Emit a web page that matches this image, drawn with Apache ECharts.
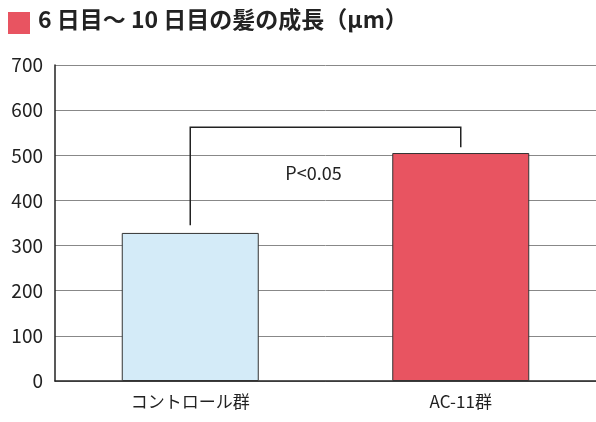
<!DOCTYPE html>
<html>
<head>
<meta charset="utf-8">
<script src="https://cdn.jsdelivr.net/npm/echarts@6/dist/echarts.min.js"></script>
</head>
<body style="margin:0">
<div id="container" style="width:596px;height:422px"></div>
<script>
var categories = ['コントロール群', 'AC-11群'];
var values = [328, 505];
var barColors = ['#d4ebf8', '#e85461'];
// 有意差ブラケット: [左端の下, 上辺, 右端の下, ラベル位置]
var bracket = [345, 562, 518, 460];
var pLabel = 'P<0.05';

var myChart = echarts.init(document.getElementById('container'));
var font = '"Noto Sans CJK JP", sans-serif';

option = {
    animation: false,
    backgroundColor: '#fff',
    graphic: [
        { type: 'rect', left: 8, top: 12, shape: { width: 22, height: 22 }, style: { fill: '#e85461' } },
        { type: 'text', left: 38, top: 8, style: { text: '6 日目～ 10 日目の髪の成長（μm）', font: 'bold 23px ' + font, fill: '#222' } }
    ],
    grid: { left: 55, right: 0, top: 65, bottom: 41 },
    xAxis: {
        type: 'category',
        data: categories,
        axisLine: { lineStyle: { color: '#222', width: 1.5 } },
        axisTick: { show: false },
        axisLabel: { color: '#222', fontSize: 17, fontFamily: font, margin: 12 }
    },
    yAxis: {
        type: 'value',
        min: 0, max: 700, interval: 100,
        axisLine: { show: true, lineStyle: { color: '#222', width: 1.5 } },
        axisLabel: { color: '#222', fontSize: 19, fontFamily: font, margin: 12 },
        splitLine: { lineStyle: { color: '#888' } }
    },
    series: [
        {
            type: 'bar',
            barWidth: 137,
            data: values.map(function (v, i) {
                return { value: v, itemStyle: { color: barColors[i], borderColor: '#333', borderWidth: 1 } };
            })
        },
        {
            type: 'custom',
            data: [bracket],
            renderItem: function (params, api) {
                var a = api.coord([0, api.value(0)]);
                var t1 = api.coord([0, api.value(1)]);
                var t2 = api.coord([1, api.value(1)]);
                var b = api.coord([1, api.value(2)]);
                var ly = api.coord([0, api.value(3)])[1];
                return {
                    type: 'group',
                    children: [
                        { type: 'polyline', shape: { points: [a, t1, t2, b] }, style: { stroke: '#222', lineWidth: 1.5, fill: null } },
                        { type: 'text', style: { text: pLabel, x: (a[0] + b[0]) / 2 - 12, y: ly, align: 'center', verticalAlign: 'middle', font: '18px ' + font, fill: '#222' } }
                    ]
                };
            }
        }
    ]
};
myChart.setOption(option);
</script>
</body>
</html>
